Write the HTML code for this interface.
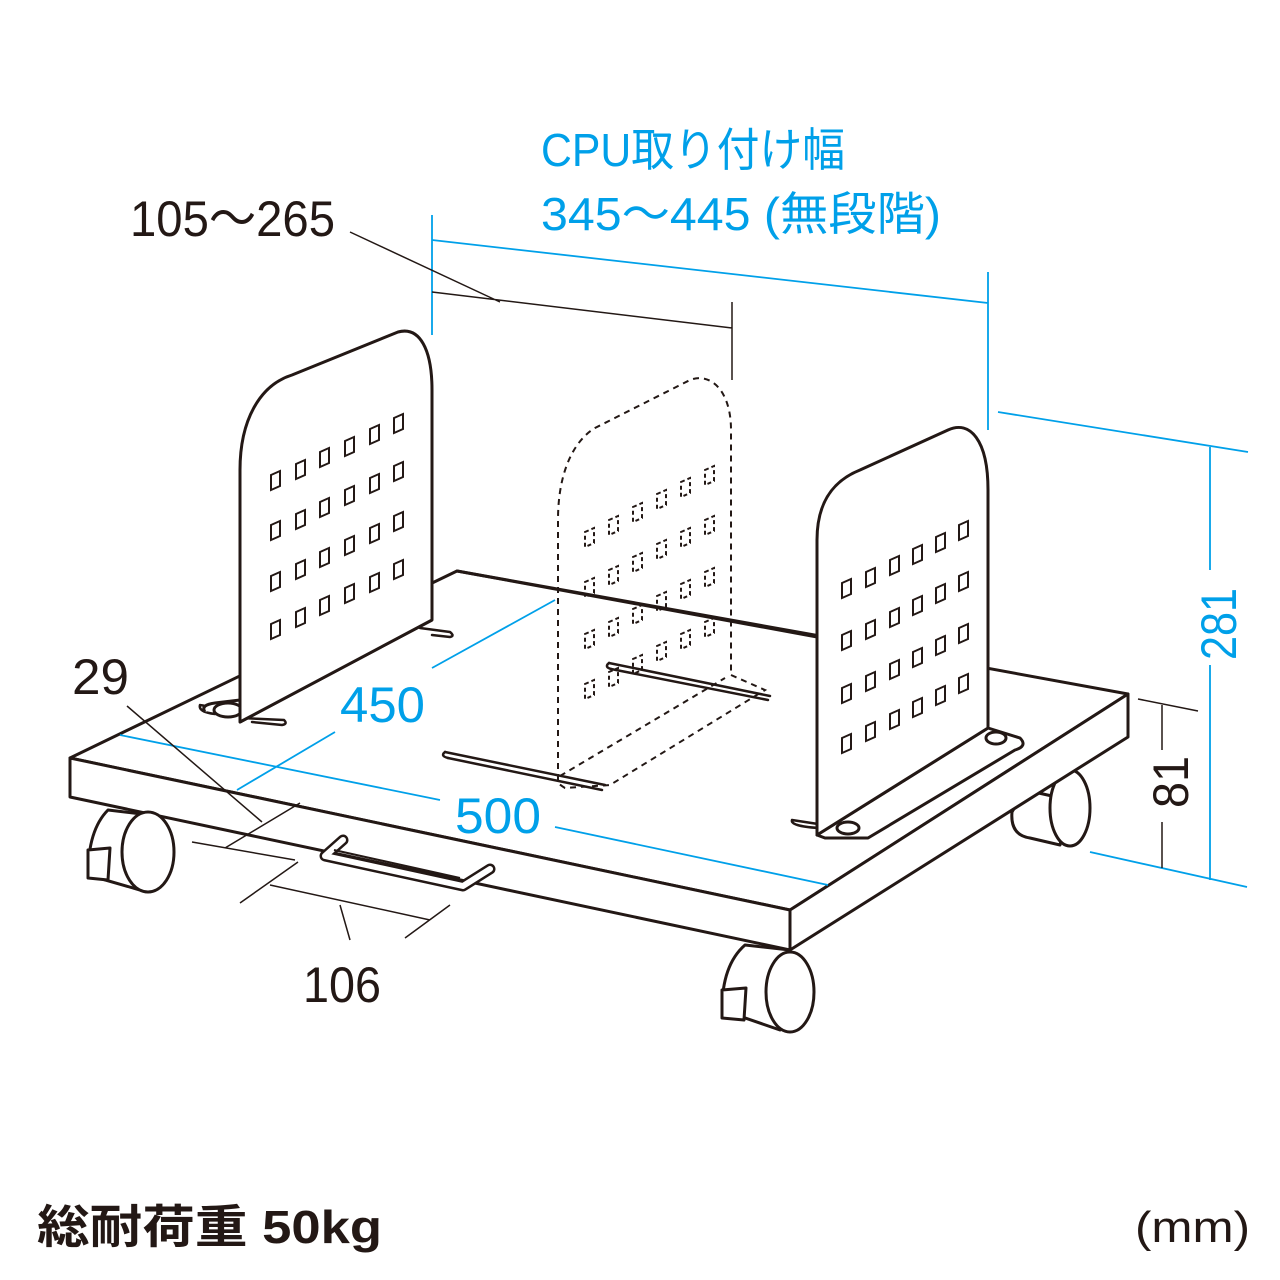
<!DOCTYPE html>
<html><head><meta charset="utf-8"><style>
html,body{margin:0;padding:0;background:#fff}
svg{display:block}
.k{fill:none;stroke:#231815;stroke-width:3;stroke-linejoin:round;stroke-linecap:round}
.t{fill:none;stroke:#231815;stroke-width:1.5}
.b{fill:none;stroke:#00a0e9;stroke-width:1.8}
.d{fill:none;stroke:#231815;stroke-width:2;stroke-dasharray:6 5}
.w{fill:#fff;stroke:#231815;stroke-width:3;stroke-linejoin:round}
text{font-family:"Liberation Sans","Noto Sans CJK JP",sans-serif}
</style></head><body>
<svg width="1280" height="1280" viewBox="0 0 1280 1280">
<defs>
<path id="h" d="M0,0 l9,-4 v15 l-9,4 z" fill="none" stroke="#231815" stroke-width="2"/>
<path id="hd" d="M0,0 l9,-4 v15 l-9,4 z" fill="none" stroke="#231815" stroke-width="2" stroke-dasharray="4 3"/>
</defs>

<g class="w">
<path d="M1025,790 L1012,812 Q1010,835 1030,838 L1060,845 L1070,800 Z"/>
<ellipse cx="1070" cy="808" rx="20" ry="38"/>
</g>

<path class="w" d="M70,758 L457,571 L1128,694 L790,910 Z"/>
<path class="w" d="M70,758 L790,910 L790,950 L70,797 Z"/>
<path class="w" d="M790,910 L1128,694 L1128,737 L790,950 Z"/>

<g class="w">
<path d="M108,810 Q88,830 88,875 L140,890 L150,815 Z"/>
<ellipse cx="148" cy="852" rx="26" ry="40"/>
<path d="M88,850 L110,848 L108,880 L88,878 Z"/>
<path d="M745,945 Q722,965 722,1010 L780,1030 L790,950 Z"/>
<ellipse cx="790" cy="992" rx="24" ry="40"/>
<path d="M722,990 L746,988 L744,1020 L722,1018 Z"/>
</g>

<g class="k" style="stroke-width:2.5">
<path d="M445,752 L605,785 M448,758 L602,790"/>
<path d="M445,752 Q440,756 448,758"/>
<path d="M609,663 L770,696 M611,669 L768,700"/>
<path d="M609,663 Q604,667 611,669"/>
<path d="M420,628 L450,632 Q455,636 450,637 L432,635"/>
<path d="M200,705 L240,712 M200,705 Q198,712 215,714 M240,718 L284,720 Q288,724 282,725 L252,722"/>
<path d="M792,820 L818,824 M792,820 Q790,826 818,828"/>
</g>

<path class="d" d="M558,780 L558,520 C558,470 575,440 595,428 L690,380 C710,372 731,390 731,430 L731,675"/>
<path class="d" d="M731,675 L765,690 L610,785 L565,788 Q555,782 558,780"/>
<path class="d" d="M560,776 L725,678"/>
<g>
<use href="#hd" x="585" y="532"/><use href="#hd" x="585" y="582"/><use href="#hd" x="585" y="634"/><use href="#hd" x="585" y="684"/>
<use href="#hd" x="609" y="520"/><use href="#hd" x="609" y="570"/><use href="#hd" x="609" y="622"/><use href="#hd" x="609" y="672"/>
<use href="#hd" x="633" y="507"/><use href="#hd" x="633" y="557"/><use href="#hd" x="633" y="609"/><use href="#hd" x="633" y="659"/>
<use href="#hd" x="657" y="494"/><use href="#hd" x="657" y="544"/><use href="#hd" x="657" y="596"/><use href="#hd" x="657" y="646"/>
<use href="#hd" x="681" y="482"/><use href="#hd" x="681" y="532"/><use href="#hd" x="681" y="584"/><use href="#hd" x="681" y="634"/>
<use href="#hd" x="705" y="470"/><use href="#hd" x="705" y="520"/><use href="#hd" x="705" y="572"/><use href="#hd" x="705" y="622"/>
</g>
<path class="k" d="M457,571 L820,636"/>

<path class="w" d="M205,712 Q200,705 215,703 L240,700 M240,722 L432,620"/>
<ellipse class="w" cx="228" cy="710" rx="14" ry="7"/>
<path class="w" d="M240,722 L240,470 C240,420 260,385 292,375 L398,332 C420,326 432,350 432,390 L432,620 Z"/>
<g>
<use href="#h" x="271" y="475"/><use href="#h" x="271" y="525"/><use href="#h" x="271" y="576"/><use href="#h" x="271" y="624"/>
<use href="#h" x="296" y="464"/><use href="#h" x="296" y="514"/><use href="#h" x="296" y="564"/><use href="#h" x="296" y="612"/>
<use href="#h" x="320" y="452"/><use href="#h" x="320" y="502"/><use href="#h" x="320" y="552"/><use href="#h" x="320" y="600"/>
<use href="#h" x="345" y="441"/><use href="#h" x="345" y="490"/><use href="#h" x="345" y="540"/><use href="#h" x="345" y="588"/>
<use href="#h" x="370" y="429"/><use href="#h" x="370" y="478"/><use href="#h" x="370" y="528"/><use href="#h" x="370" y="577"/>
<use href="#h" x="394" y="418"/><use href="#h" x="394" y="466"/><use href="#h" x="394" y="516"/><use href="#h" x="394" y="564"/>
</g>

<path class="w" d="M817,835 L988,728 L1020,738 Q1028,746 1015,750 L868,838 L825,838 Z"/>
<ellipse class="w" cx="848" cy="828" rx="11" ry="6"/>
<ellipse class="w" cx="996" cy="738" rx="10" ry="6"/>
<path class="w" d="M817,835 L817,540 C817,500 835,480 860,470 L948,430 C970,420 988,440 988,490 L988,728 Z"/>
<g>
<use href="#h" x="842" y="583"/><use href="#h" x="842" y="635"/><use href="#h" x="842" y="688"/><use href="#h" x="842" y="738"/>
<use href="#h" x="866" y="572"/><use href="#h" x="866" y="624"/><use href="#h" x="866" y="676"/><use href="#h" x="866" y="726"/>
<use href="#h" x="890" y="560"/><use href="#h" x="890" y="612"/><use href="#h" x="890" y="664"/><use href="#h" x="890" y="714"/>
<use href="#h" x="913" y="549"/><use href="#h" x="913" y="600"/><use href="#h" x="913" y="652"/><use href="#h" x="913" y="702"/>
<use href="#h" x="936" y="537"/><use href="#h" x="936" y="588"/><use href="#h" x="936" y="640"/><use href="#h" x="936" y="690"/>
<use href="#h" x="959" y="525"/><use href="#h" x="959" y="576"/><use href="#h" x="959" y="628"/><use href="#h" x="959" y="678"/>
</g>

<!-- handle -->
<path d="M343,840 L325,856 L463,886 L490,869" fill="none" stroke="#231815" stroke-width="11" stroke-linejoin="round" stroke-linecap="round"/>
<path d="M343,840 L325,856 L463,886 L490,869" fill="none" stroke="#fff" stroke-width="6" stroke-linejoin="round" stroke-linecap="round"/>
<path class="t" style="stroke-width:2" d="M334,850 L460,878"/>

<g class="b">
<path d="M432,215 L432,335 M988,272 L988,430 M432,240 L988,303"/>
<path d="M998,412 L1248,452 M1210,447 L1210,570 M1210,665 L1210,880 M1090,852 L1247,887"/>
<path d="M120,735 L440,800 M555,827 L828,885"/>
<path d="M237,790 L335,732 M432,668 L555,600"/>
</g>

<g class="t">
<path d="M432,292 L732,328 M732,302 L732,380 M350,232 L500,302"/>
<path d="M1138,699 L1198,711 M1162,705 L1162,750 M1162,822 L1162,868"/>
<path d="M127,706 L262,822 M225,848 L300,803 M192,842 L295,860"/>
<path d="M240,903 L298,862 M405,938 L450,905 M270,885 L430,920 M340,905 L350,940"/>
</g>

<g fill="#00a0e9" font-size="50">
<text x="541" y="166" font-size="46" textLength="304" lengthAdjust="spacingAndGlyphs">CPU取り付け幅</text>
<text x="541" y="230" font-size="46" textLength="400" lengthAdjust="spacingAndGlyphs">345～445 (無段階)</text>
<text x="340" y="722" textLength="85" lengthAdjust="spacingAndGlyphs">450</text>
<text x="455" y="833" textLength="86" lengthAdjust="spacingAndGlyphs">500</text>
<text transform="translate(1236,660) rotate(-90)" textLength="72" lengthAdjust="spacingAndGlyphs">281</text>
</g>
<g fill="#231815" font-size="50">
<text x="130" y="236" textLength="205" lengthAdjust="spacingAndGlyphs">105～265</text>
<text x="72" y="694" textLength="57" lengthAdjust="spacingAndGlyphs">29</text>
<text x="303" y="1002" textLength="78" lengthAdjust="spacingAndGlyphs">106</text>
<text transform="translate(1188,808) rotate(-90)" textLength="52" lengthAdjust="spacingAndGlyphs">81</text>
</g>
<text x="37" y="1243" font-size="46" font-weight="bold" fill="#231815" textLength="345" lengthAdjust="spacingAndGlyphs">総耐荷重 50kg</text>
<text x="1135" y="1242" font-size="44" fill="#231815" textLength="115" lengthAdjust="spacingAndGlyphs">(mm)</text>
</svg>
</body></html>
